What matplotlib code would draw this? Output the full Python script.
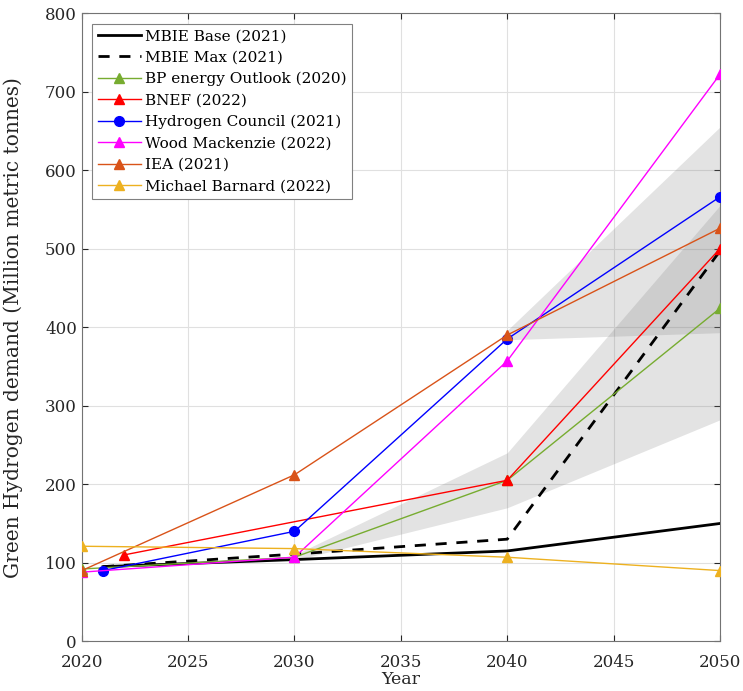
import matplotlib
matplotlib.use("Agg")
import matplotlib.pyplot as plt

plt.rcParams['font.family'] = ['DejaVu Serif']

# scenario data (Mt of green hydrogen)
mbie_base_x = [2021, 2030, 2040, 2050]
mbie_base_y = [95, 104, 115, 150]
mbie_max_x = [2021, 2030, 2040, 2050]
mbie_max_y = [95, 111, 130, 497]
bp_x = [2020, 2030, 2040, 2050]
bp_y = [92, 107, 205, 424]
bnef_x = [2022, 2040, 2050]
bnef_y = [110, 205, 500]
hc_x = [2021, 2030, 2040, 2050]
hc_y = [90, 140, 385, 566]
wm_x = [2020, 2030, 2040, 2050]
wm_y = [88, 107, 357, 722]
iea_x = [2020, 2030, 2040, 2050]
iea_y = [90, 212, 390, 526]
mb_x = [2020, 2030, 2040, 2050]
mb_y = [121, 118, 107, 90]

# shaded uncertainty ranges
band1_x = [2030, 2040, 2050]
band1_lo = [103, 170, 282]
band1_hi = [110, 240, 555]
band2_x = [2040, 2050]
band2_lo = [384, 393]
band2_hi = [396, 655]

fig = plt.figure(figsize=(7.43, 6.91), dpi=100)
ax = fig.add_axes([0.110, 0.072, 0.859, 0.909])

ax.fill_between(band1_x, band1_lo, band1_hi, color='0.5', alpha=0.22, lw=0, zorder=1)
ax.fill_between(band2_x, band2_lo, band2_hi, color='0.5', alpha=0.22, lw=0, zorder=1)

ax.plot(mbie_base_x, mbie_base_y, color='k', lw=2, label='MBIE Base (2021)', zorder=3)
ax.plot(mbie_max_x, mbie_max_y, color='k', lw=2, ls=(0, (4, 3.5)), label='MBIE Max (2021)', zorder=3)
ax.plot(bp_x, bp_y, color='#77AC30', lw=1, marker='^', ms=7, label='BP energy Outlook (2020)', zorder=3)
ax.plot(bnef_x, bnef_y, color='#FF0000', lw=1, marker='^', ms=7, label='BNEF (2022)', zorder=3)
ax.plot(hc_x, hc_y, color='#0000FF', lw=1, marker='o', ms=7, label='Hydrogen Council (2021)', zorder=3)
ax.plot(wm_x, wm_y, color='#FF00FF', lw=1, marker='^', ms=7, label='Wood Mackenzie (2022)', zorder=3)
ax.plot(iea_x, iea_y, color='#D95319', lw=1, marker='^', ms=7, label='IEA (2021)', zorder=3)
ax.plot(mb_x, mb_y, color='#EDB120', lw=1, marker='^', ms=7, label='Michael Barnard (2022)', zorder=3)

ax.set_xlim(2020, 2050)
ax.set_ylim(0, 800)
ax.set_xticks(range(2020, 2051, 5))
ax.set_yticks(range(0, 801, 100))
ax.grid(True, color='0.88', lw=0.8)
ax.set_axisbelow(True)
ax.tick_params(direction='in', labelsize=12, colors='0.15', length=4, top=True, right=True)
ax.tick_params(axis='x', pad=9)
for sp in ax.spines.values():
    sp.set_color('0.45')

ax.set_xlabel('Year', fontsize=12.5, color='0.15', labelpad=0)
ax.set_ylabel('Green Hydrogen demand (Million metric tonnes)', fontsize=14.5, color='0.15', labelpad=16)

leg = ax.legend(loc='upper left', fontsize=11, fancybox=False, framealpha=1,
                edgecolor='0.5', handlelength=2.8, borderaxespad=0.7,
                labelspacing=0.48, handletextpad=0.3, borderpad=0.35)
leg.get_frame().set_linewidth(0.8)

fig.savefig('out.png', dpi=100)
